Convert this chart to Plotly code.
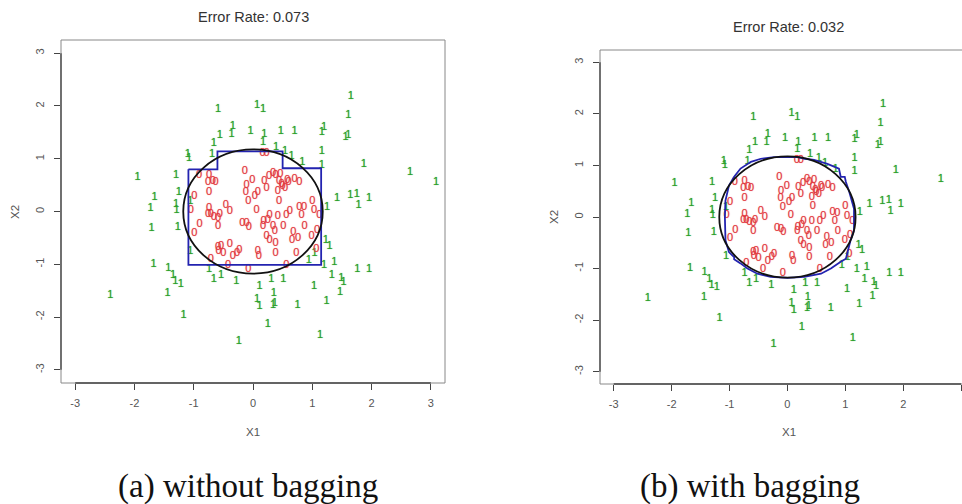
import plotly.graph_objects as go

# ---------------- data ----------------
ones_x = [1.65, -0.59, 0.07, 0.17, 1.61, -0.34, -0.36, -0.56, -0.04, 0.19, 0.47, 0.70, 1.16, 1.20,
          1.56, 1.61, -0.66, 0.17, 0.39, 0.54, 0.65, 1.16, -1.10, -1.08, -0.69, 1.16, 0.83, 1.87,
          2.65, 3.09, -1.95, -1.30, -1.25, -1.66, -1.73, -1.30, -1.29, -1.71, -1.27, 1.25, 1.42,
          1.64, 1.75, 1.78, 1.96, 1.23, 1.29, -1.68, -1.43, -1.35, -1.31, -1.22, -1.44, -2.41,
          -1.17, -0.24, 0.25, 1.13, 1.37, 1.33, 1.49, 1.53, 1.47, 1.03, 1.24, 1.76, 1.96, 1.20,
          1.04, 0.94, 0.75, 0.07, 0.11, 0.35, 0.37, 0.34, 0.11, 0.31, 0.51, -0.28, -0.66, -0.54,
          -0.74, -1.06, -1.06]
ones_y = [2.18, 1.94, 2.01, 1.94, 1.82, 1.61, 1.46, 1.45, 1.52, 1.46, 1.52, 1.53, 1.50, 1.59,
          1.40, 1.45, 1.29, 1.31, 1.22, 1.14, 1.05, 1.14, 1.09, 1.01, 1.09, 0.88, 0.93, 0.90,
          0.74, 0.55, 0.65, 0.68, 0.36, 0.27, 0.06, 0.13, 0.03, -0.32, -0.30, 0.09, 0.25,
          0.30, 0.33, 0.11, 0.25, -0.54, -0.65, -1.00, -1.07, -1.20, -1.33, -1.37, -1.55, -1.58,
          -1.96, -2.46, -2.13, -2.35, -0.97, -1.21, -1.26, -1.34, -1.53, -1.41, -1.70, -1.10, -1.10, -1.01,
          -0.79, -0.93, -1.77, -1.67, -1.80, -1.55, -1.74, -1.77, -1.42, -1.28, -1.29, -1.33, -1.29, -1.20,
          -1.10, -0.76, 0.19]

zeros_x = [0.16, 0.23, -0.14, -0.91, -0.74, -0.76, -0.68, -0.63, -0.74, -0.99, -0.11, -0.12,
           -0.08, -0.01, 0.08, 0.03, 0.19, 0.23, 0.27, 0.34, 0.38, 0.46, 0.44, 0.42, 0.48, 0.54,
           0.58, 0.70, 0.78, 0.44, 0.06, 0.62, 0.78, 0.86, 1.00, 1.03, 1.12, 0.82, 1.08, 0.99,
           0.87, 0.68, 0.76, 0.66, 0.51, 0.42, 0.28, 0.25, 0.18, 0.17, 0.34, 0.37, 0.23, 0.28,
           0.38, 0.38, 0.08, 0.10, 0.56, -0.46, -0.39, -0.56, -0.59, -0.74, -0.76, -0.71, -0.66,
           -1.05, -0.90, -0.99, -0.59, -0.59, -0.58, -0.54, -0.39, -0.34, -0.27, -0.23, -0.18,
           -0.11, -0.07, -0.42, -0.08, -0.71, 0.56, 0.73, 1.07, 0.50, 0.60, -0.50]
zeros_y = [1.10, 1.10, 0.77, 0.68, 0.69, 0.55, 0.58, 0.55, 0.36, 0.28, 0.49, 0.36,
           0.19, 0.60, 0.36, 0.28, 0.57, 0.44, 0.66, 0.73, 0.68, 0.71, 0.57, 0.38, 0.51, 0.44,
           0.60, 0.61, 0.55, 0.20, 0.03, 0.01, 0.09, 0.08, 0.20, 0.02, -0.08, -0.08, -0.35, -0.46,
           -0.27, -0.40, -0.51, -0.54, -0.28, -0.09, -0.08, -0.16, -0.19, -0.28, -0.28, -0.38, -0.47, -0.54,
           -0.60, -0.79, -0.76, -0.85, -0.08, 0.11, 0.00, -0.06, -0.13, 0.06, -0.06, -0.06, -0.10,
           0.03, -0.25, -0.41, -0.28, -0.68, -0.76, -0.66, -0.63, -0.85, -0.79, -0.73, -0.22,
           -0.23, -0.30, -1.01, -1.09, -0.90, -1.01, -0.79, -0.72, 0.48, 0.55, -0.80]

circle_radius = 1.177

# decision boundary without bagging (single tree)
tree_x = [-1.09, -0.60, -0.60, 0.50, 0.50, 1.15, 1.15, -1.09, -1.09]
tree_y = [0.80, 0.80, 1.14, 1.14, 0.82, 0.82, -1.01, -1.01, 0.80]

# decision boundary with bagging (jagged polygon)
bag_x = [-0.23, 0.17, 0.30, 0.46, 0.69, 0.83, 0.89, 0.92, 0.99, 1.01, 1.07, 1.15, 1.15, 1.09, 1.04,
         1.01, 0.92, 0.75, 0.58, 0.29, 0.00, -0.29, -0.52, -0.69, -0.81, -0.92, -0.92, -1.01, -1.07,
         -1.08, -1.07, -1.01, -0.92, -0.81, -0.63, -0.46, -0.23]
bag_y = [1.16, 1.16, 1.13, 1.11, 1.03, 0.97, 0.94, 0.78, 0.78, 0.68, 0.48, 0.16, -0.26, -0.45, -0.65,
         -0.81, -0.87, -1.00, -1.10, -1.16, -1.18, -1.16, -1.10, -1.00, -0.90, -0.82, -0.78, -0.68,
         -0.45, 0.00, 0.32, 0.61, 0.78, 0.94, 1.07, 1.13, 1.16]

titles = ["Error Rate: 0.073", "Error Rate: 0.032"]
captions = ["(a) without bagging", "(b) with bagging"]
tick_vals = [-3, -2, -1, 0, 1, 2, 3]
tick_text = ["-3", "-2", "-1", "0", "1", "2", "3"]

# ---------------- styling / layout ----------------
W, H = 962, 504
GREEN = "#2a9f2a"
RED = "#e23a3f"
BLUE = "#2323b0"
AX = "#444444"

panels = [
    dict(xd=[61 / W, 445 / W], yd=[(H - 383) / H, (H - 40) / H], xr=[-3.24, 3.24], yr=[-3.25, 3.25],
         bx=tree_x, by=tree_y, right_border=True),
    dict(xd=[600 / W, 1.0], yd=[(H - 384) / H, (H - 50) / H], xr=[-3.237, 3.015], yr=[-3.24, 3.24],
         bx=bag_x, by=bag_y, right_border=False),
]

fig = go.Figure()
shapes = []
annotations = []

for i, p in enumerate(panels):
    xa = "x" if i == 0 else "x2"
    ya = "y" if i == 0 else "y2"
    fig.add_trace(go.Scatter(x=ones_x, y=ones_y, mode="text", text=["1"] * len(ones_x),
                             textfont=dict(color=GREEN, size=11, family="Liberation Sans",
                                           shadow="0px 0px 1px rgba(42,159,42,0.7)"),
                             xaxis=xa, yaxis=ya, showlegend=False, hoverinfo="skip"))
    fig.add_trace(go.Scatter(x=zeros_x, y=zeros_y, mode="text", text=["0"] * len(zeros_x),
                             textfont=dict(color=RED, size=11, family="Liberation Sans",
                                           shadow="0px 0px 1px rgba(226,58,63,0.6)"),
                             xaxis=xa, yaxis=ya, showlegend=False, hoverinfo="skip"))
    fig.add_trace(go.Scatter(x=p["bx"], y=p["by"], mode="lines",
                             line=dict(color=BLUE, width=1.8),
                             xaxis=xa, yaxis=ya, showlegend=False, hoverinfo="skip"))
    # true boundary circle
    shapes.append(dict(type="circle", xref=xa, yref=ya, x0=-circle_radius, x1=circle_radius,
                       y0=-circle_radius, y1=circle_radius, line=dict(color="#111111", width=1.8)))
    # plot frame
    xdom = xa + " domain"
    ydom = ya + " domain"
    frame = dict(color="#888888", width=1)
    shapes.append(dict(type="line", xref=xdom, yref=ydom, x0=0, x1=1, y0=1, y1=1, line=frame))
    shapes.append(dict(type="line", xref=xdom, yref=ydom, x0=0, x1=1, y0=0, y1=0, line=frame))
    shapes.append(dict(type="line", xref=xdom, yref=ydom, x0=0, x1=0, y0=0, y1=1, line=frame))
    if p["right_border"]:
        shapes.append(dict(type="line", xref=xdom, yref=ydom, x0=1, x1=1, y0=0, y1=1, line=frame))
    # R-style axis lines from first to last tick
    shapes.append(dict(type="line", xref=xa, yref=ydom, x0=tick_vals[0], x1=tick_vals[-1], y0=0, y1=0,
                       line=dict(color=AX, width=1.3)))
    shapes.append(dict(type="line", xref=xdom, yref=ya, x0=0, x1=0, y0=tick_vals[0], y1=tick_vals[-1],
                       line=dict(color=AX, width=1.3)))

    axis_common = dict(showgrid=False, zeroline=False, showline=False, ticks="outside", ticklen=6,
                       tickcolor=AX, tickwidth=1, tickvals=tick_vals, ticktext=tick_text,
                       tickfont=dict(size=11, color="#555555", family="Liberation Sans"))
    fig.update_layout(**{
        ("xaxis" if i == 0 else "xaxis2"): dict(domain=p["xd"], range=p["xr"], anchor=ya,
                                                 ticklabelstandoff=4, **axis_common),
        ("yaxis" if i == 0 else "yaxis2"): dict(domain=p["yd"], range=p["yr"], anchor=xa,
                                                 tickangle=-90, ticklabelstandoff=6, **axis_common),
    })


def px(x):
    return x / W


def py(y):
    return (H - y) / H


label_font = dict(size=14.5, color="#333333", family="Liberation Sans")
small_font = dict(size=11.5, color="#555555", family="Liberation Sans")
cap_font = dict(size=33, color="#111111", family="Liberation Serif")
annotations += [
    dict(text=titles[0], x=px(253), y=py(17), font=label_font),
    dict(text=titles[1], x=px(788), y=py(27), font=label_font),
    dict(text="X2", x=px(15), y=py(212), textangle=-90, font=small_font),
    dict(text="X2", x=px(554), y=py(217), textangle=-90, font=small_font),
    dict(text="X1", x=px(253), y=py(432), font=small_font),
    dict(text="X1", x=px(789), y=py(432), font=small_font),
    dict(text=captions[0], x=px(248), y=py(486), font=cap_font),
    dict(text=captions[1], x=px(750), y=py(486), font=cap_font),
]
for a in annotations:
    a.update(xref="paper", yref="paper", xanchor="center", yanchor="middle", showarrow=False)

fig.update_layout(width=W, height=H, margin=dict(l=0, r=0, t=0, b=0),
                  paper_bgcolor="white", plot_bgcolor="white",
                  shapes=shapes, annotations=annotations)

fig.write_html("out.html", config={"displayModeBar": False},
               post_script="document.body.style.margin='0';document.body.style.overflow='hidden';")
